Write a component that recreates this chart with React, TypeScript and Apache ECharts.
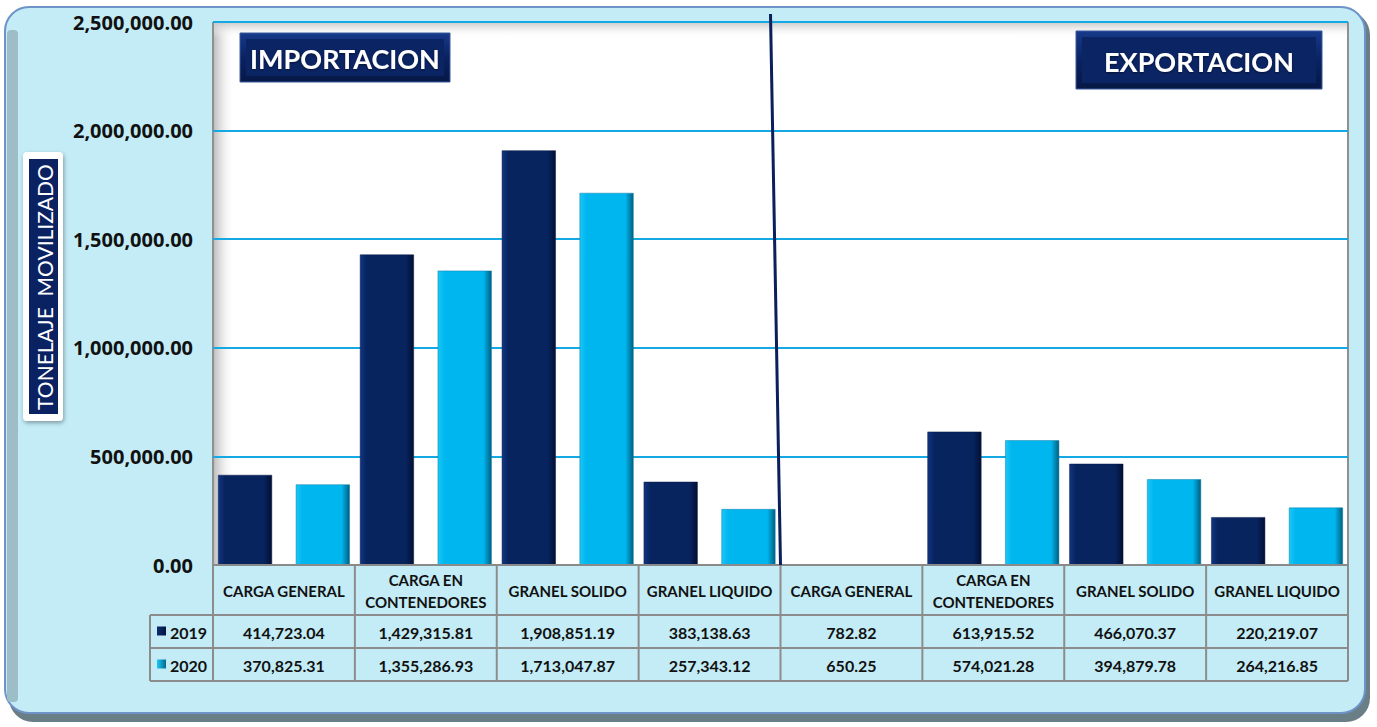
import React, { useEffect, useRef } from "react";
import * as echarts from "echarts";

const categories = [
  "CARGA GENERAL",
  "CARGA EN\nCONTENEDORES",
  "GRANEL SOLIDO",
  "GRANEL LIQUIDO",
  "CARGA GENERAL",
  "CARGA EN\nCONTENEDORES",
  "GRANEL SOLIDO",
  "GRANEL LIQUIDO",
];
const seriesNames = ["2019", "2020"];
const values2019 = [414723.04, 1429315.81, 1908851.19, 383138.63, 782.82, 613915.52, 466070.37, 220219.07];
const values2020 = [370825.31, 1355286.93, 1713047.87, 257343.12, 650.25, 574021.28, 394879.78, 264216.85];
const yMin = 0;
const yMax = 2500000;
const yInterval = 500000;
const yTitle = "TONELAJE  MOVILIZADO";
const titleLeft = "IMPORTACION";
const titleRight = "EXPORTACION";

const W = 1377;
const H = 727;
const GL = 213;
const GR = 1348;
const GT = 22;
const GB = 565;
const ROW1 = 615;
const ROW2 = 648;
const ROW3 = 681;
const LEG_L = 150;
const FONT = "Lato, 'Open Sans', sans-serif";
const FONT_W = "'Open Sans', Lato, sans-serif";
const NAVY = "#0a2262";

const fmt = (n: number) =>
  n.toLocaleString("en-US", { minimumFractionDigits: 2, maximumFractionDigits: 2 });

const grad = (stops: [number, string][], horizontal = true) =>
  new echarts.graphic.LinearGradient(0, 0, horizontal ? 1 : 0, horizontal ? 0 : 1,
    stops.map(([offset, color]) => ({ offset, color })));

export default function App() {
  const ref = useRef<HTMLDivElement>(null);

  useEffect(() => {
    if (!ref.current) return;
    const chart = echarts.init(ref.current, null, { renderer: "svg" });
    const catW = (GR - GL) / categories.length;
    const lineC = "#8c8c8c";

    const graphics: any[] = [];
    // outer frame
    graphics.push({ type: "rect", z: -20, shape: { x: 9, y: 11, width: 1361, height: 711, r: 24 }, style: { fill: "#6a7e85" } });
    graphics.push({ type: "rect", z: -19, shape: { x: 5, y: 7, width: 1360, height: 706, r: 24 }, style: { fill: "#c3ecf6", stroke: "#6d93c9", lineWidth: 2 } });
    graphics.push({ type: "rect", z: -18, shape: { x: 7, y: 30, width: 11, height: 672, r: 4 }, style: { fill: "#9dbdc7" } });
    // plot wall
    graphics.push({ type: "rect", z: -10, shape: { x: GL, y: GT, width: GR - GL, height: GB - GT }, style: { fill: "#ffffff" } });
    graphics.push({ type: "rect", z: -9, shape: { x: GL, y: GT, width: 22, height: GB - GT }, style: { fill: grad([[0, "#b8b8b8"], [1, "rgba(255,255,255,0)"]]) } });
    graphics.push({ type: "rect", z: -9, shape: { x: GL, y: GT, width: GR - GL, height: 16 }, style: { fill: grad([[0, "#c8c8c8"], [1, "rgba(255,255,255,0)"]], false) } });
    graphics.push({ type: "line", z: -8, shape: { x1: GL, y1: GT, x2: GL, y2: GB }, style: { stroke: "#909090", lineWidth: 2 } });
    graphics.push({ type: "line", z: -8, shape: { x1: GR, y1: GT, x2: GR, y2: GB }, style: { stroke: "#909090", lineWidth: 2 } });

    // table lines
    for (let i = 0; i <= categories.length; i++) {
      const x = GL + i * catW;
      graphics.push({ type: "line", z: 3, shape: { x1: x, y1: GB, x2: x, y2: ROW3 }, style: { stroke: lineC, lineWidth: 2 } });
    }
    [ROW1, ROW2, ROW3].forEach((y) =>
      graphics.push({ type: "line", z: 3, shape: { x1: LEG_L, y1: y, x2: GR, y2: y }, style: { stroke: lineC, lineWidth: 2 } })
    );
    graphics.push({ type: "line", z: 3, shape: { x1: LEG_L, y1: ROW1, x2: LEG_L, y2: ROW3 }, style: { stroke: lineC, lineWidth: 2 } });

    const rows = [values2019, values2020];
    const rowY = [(ROW1 + ROW2) / 2, (ROW2 + ROW3) / 2];
    rows.forEach((vals, r) => {
      vals.forEach((v, i) => {
        graphics.push({
          type: "text", z: 4, x: GL + (i + 0.5) * catW, y: rowY[r] + 1,
          style: { text: fmt(v), fill: "#111", font: `bold 16px ${FONT}`, align: "center", verticalAlign: "middle" },
        });
      });
      graphics.push({
        type: "rect", z: 4, shape: { x: 157, y: rowY[r] - 5, width: 9, height: 9 },
        style: { fill: r === 0 ? grad([[0, "#0d2c70"], [1, "#041640"]]) : grad([[0, "#20c8f8"], [1, "#006b8c"]]) },
      });
      graphics.push({
        type: "text", z: 4, x: 170, y: rowY[r] + 1,
        style: { text: seriesNames[r], fill: "#111", font: `bold 16px ${FONT}`, align: "left", verticalAlign: "middle" },
      });
    });

    // y axis title box
    graphics.push({ type: "rect", z: 5, shape: { x: 23, y: 152, width: 40, height: 269, r: 4 }, style: { fill: "#ffffff", shadowBlur: 4, shadowColor: "rgba(0,0,0,0.35)", shadowOffsetX: 1, shadowOffsetY: 2 } });
    graphics.push({ type: "rect", z: 6, shape: { x: 29, y: 159, width: 29, height: 255 }, style: { fill: NAVY } });
    graphics.push({
      type: "text", z: 7, x: 44, y: 287, rotation: Math.PI / 2,
      style: { text: yTitle, fill: "#ffffff", font: `21px ${FONT}`, align: "center", verticalAlign: "middle" },
    });

    // title boxes
    const titleBox = (x: number, y: number, w: number, h: number, text: string) => {
      graphics.push({ type: "rect", z: 6, shape: { x, y, width: w, height: h }, style: { fill: grad([[0, "#163a8a"], [0.5, NAVY], [1, "#061845"]], false), stroke: "#3a5ba0", lineWidth: 1 } });
      graphics.push({ type: "rect", z: 6, shape: { x: x + 6, y: y + 6, width: w - 12, height: h - 12 }, style: { fill: "#0b2464" } });
      graphics.push({
        type: "text", z: 7, x: x + w / 2, y: y + h / 2 + 1,
        style: { text, fill: "#ffffff", font: `bold 27px ${FONT}`, align: "center", verticalAlign: "middle", textShadowColor: "rgba(0,0,0,0.5)", textShadowBlur: 2, textShadowOffsetY: 1 },
      });
    };
    titleBox(240, 33, 210, 49, titleLeft);
    titleBox(1076, 31, 246, 58, titleRight);

    // divider line
    graphics.push({ type: "line", z: 8, shape: { x1: GL + 4 * catW - 10, y1: 14, x2: GL + 4 * catW, y2: GB }, style: { stroke: "#0a1f5c", lineWidth: 3 } });

    chart.setOption({
      animation: false,
      backgroundColor: "#ffffff",
      grid: { left: GL, right: W - GR, top: GT, bottom: H - GB, containLabel: false },
      xAxis: {
        type: "category",
        data: categories,
        axisLine: { show: true, lineStyle: { color: "#8a8a8a", width: 2 } },
        axisTick: { show: false },
        axisLabel: {
          interval: 0, margin: 26, verticalAlign: "middle", lineHeight: 22,
          fontWeight: "bold", fontSize: 15, fontFamily: FONT, color: "#111", align: "center",
        },
        z: 3,
      },
      yAxis: {
        type: "value",
        min: yMin, max: yMax, interval: yInterval,
        axisLine: { show: false },
        axisTick: { show: false },
        splitLine: { show: true, lineStyle: { color: "#14a9e2", width: 2 } },
        axisLabel: {
          margin: 20, fontWeight: "bold", fontSize: 20, fontFamily: FONT_W, color: "#111",
          formatter: (v: number) => fmt(v),
        },
      },
      series: [
        {
          name: seriesNames[0], type: "bar", data: values2019, barWidth: 54, barGap: "44%",
          itemStyle: { color: grad([[0, "#123583"], [0.12, "#07245f"], [0.85, "#07245f"], [1, "#020f33"]]), borderColor: "#0a1a44", borderWidth: 0.5 },
        },
        {
          name: seriesNames[1], type: "bar", data: values2020, barWidth: 54,
          itemStyle: { color: grad([[0, "#1cc6f6"], [0.12, "#00b6ef"], [0.85, "#00b6ef"], [1, "#005f80"]]), borderColor: "#0a7ea8", borderWidth: 0.5 },
        },
      ],
      graphic: { elements: graphics },
    });
    return () => chart.dispose();
  }, []);

  return (
    <div
      ref={ref}
      style={{ position: "fixed", left: 0, top: 0, width: W, height: H }}
    />
  );
}
